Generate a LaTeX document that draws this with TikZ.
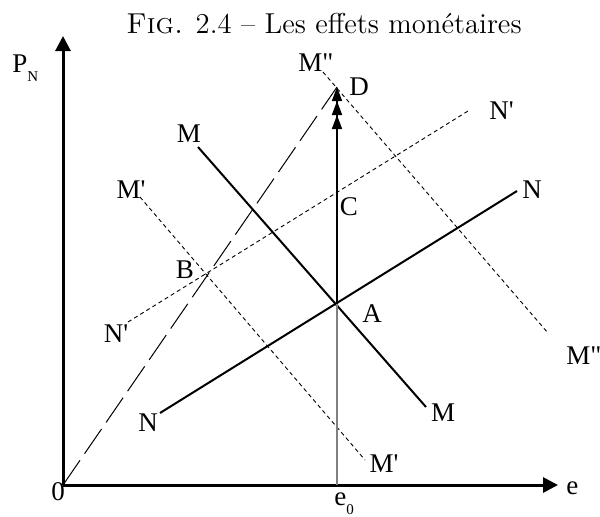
\documentclass[tikz,border=0pt]{standalone}
\usepackage{fontspec}
\usetikzlibrary{arrows.meta}
\newfontfamily\labfont{Liberation Serif}
\newcommand{\lowsub}[1]{\raisebox{-0.8ex}{\fontsize{7.5}{9}\selectfont #1}}

\begin{document}
\begin{tikzpicture}[x=0.5pt,y=-0.5pt,
      lbl/.style={font=\labfont\fontsize{13.5}{16}\selectfont,inner sep=0pt},
      axis/.style={line width=1.5pt,-{Triangle[length=7.5pt,width=7.5pt]}},
      curve/.style={line width=1pt},
      shifted/.style={line width=0.45pt,dash pattern=on 2pt off 1.6pt},
      ray/.style={line width=0.5pt,dash pattern=on 15pt off 4pt}]
    \useasboundingbox (0,0) rectangle (600,516);

    \node[anchor=base,font=\Large] (title) at (324,33) {\textsc{Fig.} 2.4 -- Les effets monétaires};

    \coordinate (O) at (63,485);
    \coordinate (Ytop) at (63,36);
    \coordinate (Xend) at (558,485);
    \coordinate (E0) at (337,485);
    \coordinate (A) at (337,304);
    \coordinate (C) at (337,194);
    \coordinate (D) at (337,87);
    \coordinate (M1) at (198,147);
    \coordinate (M2) at (426,407);
    \coordinate (N1) at (160,413);
    \coordinate (N2) at (517,191);
    \coordinate (Mp1) at (140,197);
    \coordinate (Mp2) at (365,460);
    \coordinate (Np1) at (128,322);
    \coordinate (Np2) at (468,111);
    \coordinate (Mpp1) at (323,72);
    \coordinate (Mpp2) at (548,333);

    \draw[axis] (O) -- (Ytop);
    \draw[axis] (O) -- (Xend);

    \draw[ray] (O) -- (D);
    \draw[curve] (M1) -- (M2);
    \draw[curve] (N1) -- (N2);
    \draw[shifted] (Mp1) -- (Mp2);
    \draw[shifted] (Np1) -- (Np2);
    \draw[shifted] (Mpp1) -- (Mpp2);

    \draw[gray,line width=0.6pt] (E0) -- (A);
    \draw[line width=0.8pt,-{Triangle[length=7pt,width=5pt] Triangle[length=7pt,width=5pt] Triangle[length=7pt,width=5pt]}] (A) -- (D);

    \node[lbl,anchor=base west] (lPN) at (12,72) {P\lowsub{N}};
    \node[lbl] (l0) at (58,492) {0};
    \node[lbl,anchor=base west] (le) at (566,494) {e};
    \node[lbl,anchor=base west] (le0) at (334,505) {e\lowsub{0}};
    \node[lbl] (lMa) at (189,134) {M};
    \node[lbl] (lMb) at (443,413) {M};
    \node[lbl] (lMpa) at (131,190) {M\textquotesingle};
    \node[lbl] (lMpb) at (384,464) {M\textquotesingle};
    \node[lbl] (lMppa) at (316,63) {M\textquotedbl};
    \node[lbl,anchor=west] (lMppb) at (566,356) {M\textquotedbl};
    \node[lbl] (lNa) at (148,423) {N};
    \node[lbl] (lNb) at (532,190) {N};
    \node[lbl] (lNpa) at (116,334) {N\textquotesingle};
    \node[lbl,anchor=west] (lNpb) at (489,111) {N\textquotesingle};
    \node[lbl] (lA) at (372,314) {A};
    \node[lbl] (lB) at (185,270) {B};
    \node[lbl] (lC) at (349,207) {C};
    \node[lbl] (lD) at (359,87) {D};
  \end{tikzpicture}
\end{document}
